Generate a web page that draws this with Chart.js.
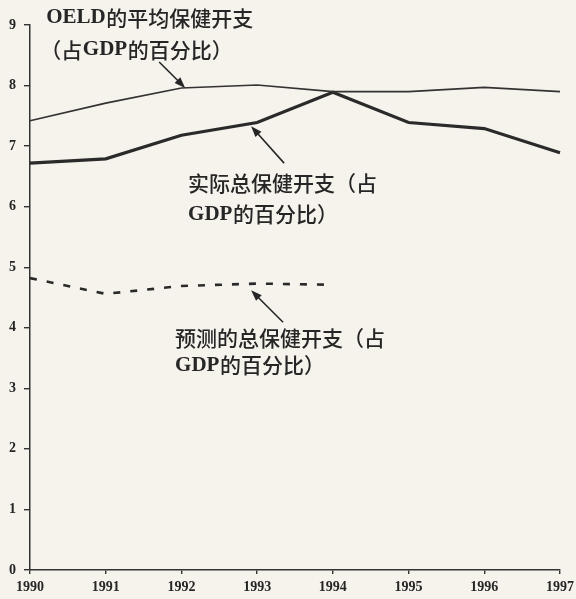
<!DOCTYPE html>
<html>
<head>
<meta charset="utf-8">
<script src="https://cdn.jsdelivr.net/npm/chart.js@4.4.0/dist/chart.umd.min.js"></script>
<style>
  html, body { margin: 0; padding: 0; overflow: hidden; background: #f6f2ec; }
  #wrap { position: relative; width: 600px; height: 599px; }
</style>
</head>
<body>
<div id="wrap"><canvas id="healthChart"></canvas></div>
<script>
// values (% of GDP)
const years = ['1990', '1991', '1992', '1993', '1994', '1995', '1996', '1997'];
const oecdAverage = [7.42, 7.71, 7.96, 8.01, 7.9, 7.9, 7.97, 7.9];
const actualTotal = [6.72, 6.79, 7.18, 7.39, 7.89, 7.39, 7.29, 6.89];
const forecastTotal = [4.82, 4.56, 4.69, 4.73, 4.71];
const yTicks = [0, 1, 2, 3, 4, 5, 6, 7, 8, 9];

const labelOecd = ['OELD的平均保健开支', '（占GDP的百分比）'];
const labelActual = ['实际总保健开支（占', 'GDP的百分比）'];
const labelForecast = ['预测的总保健开支（占', 'GDP的百分比）'];

const INK = '#262626';
const LATIN_FONT = "bold 21px 'Liberation Serif', 'DejaVu Serif', serif";
const CJK_FONT = "500 21px 'Noto Sans CJK SC', 'Noto Sans', sans-serif";

// draw a line of mixed text: latin runs in bold serif, the rest in CJK sans
function drawMixed(ctx, text, x, y) {
    const parts = text.split(/([A-Za-z0-9]+)/).filter(s => s.length);
    let cx = x;
    parts.forEach(part => {
        ctx.font = /^[A-Za-z0-9]+$/.test(part) ? LATIN_FONT : CJK_FONT;
        ctx.fillText(part, cx, y);
        cx += ctx.measureText(part).width + 0.6;
    });
}

function drawArrow(ctx, x0, y0, x1, y1) {
    const ang = Math.atan2(y1 - y0, x1 - x0);
    const head = 11, half = 4;
    ctx.beginPath();
    ctx.moveTo(x0, y0);
    ctx.lineTo(x1 - Math.cos(ang) * head * 0.8, y1 - Math.sin(ang) * head * 0.8);
    ctx.stroke();
    ctx.beginPath();
    ctx.moveTo(x1, y1);
    ctx.lineTo(x1 - Math.cos(ang) * head + Math.sin(ang) * half, y1 - Math.sin(ang) * head - Math.cos(ang) * half);
    ctx.lineTo(x1 - Math.cos(ang) * head - Math.sin(ang) * half, y1 - Math.sin(ang) * head + Math.cos(ang) * half);
    ctx.closePath();
    ctx.fill();
}

// arrow tip sits on the series (index, value), text is offset from the tip
const callouts = [
    { lines: labelOecd, at: [2.05, 7.96], tail: [-26, -26], text: [[-139, -70], [-145, -38]] },
    { lines: labelActual, at: [2.92, 7.33], tail: [33, 37], text: [[-63, 57], [-63, 88]] },
    { lines: labelForecast, at: [2.92, 4.62], tail: [32, 32], text: [[-76, 48], [-76, 75]] }
];

const calloutPlugin = {
    id: 'callouts',
    afterDraw(chart) {
        const ctx = chart.ctx;
        const xs = chart.scales.x, ys = chart.scales.y;
        ctx.save();
        ctx.fillStyle = INK;
        ctx.strokeStyle = INK;
        ctx.lineWidth = 1.6;
        ctx.textBaseline = 'middle';
        ctx.textAlign = 'left';
        callouts.forEach(c => {
            const tx = xs.getPixelForValue(c.at[0]);
            const ty = ys.getPixelForValue(c.at[1]);
            drawArrow(ctx, tx + c.tail[0], ty + c.tail[1], tx, ty);
            c.lines.forEach((line, i) => {
                drawMixed(ctx, line, tx + c.text[i][0], ty + c.text[i][1]);
            });
        });
        ctx.restore();
    }
};

const tickFont = { family: "'Liberation Serif', 'DejaVu Serif', serif", size: 14, weight: 'bold' };

new Chart(document.getElementById('healthChart'), {
    type: 'line',
    data: {
        labels: years,
        datasets: [
            {
                label: 'OECD average',
                data: oecdAverage,
                borderColor: '#333',
                borderWidth: 1.6,
                pointRadius: 0,
                tension: 0
            },
            {
                label: 'Actual total',
                data: actualTotal,
                borderColor: '#2a2a2a',
                borderWidth: 3.2,
                pointRadius: 0,
                tension: 0
            },
            {
                label: 'Forecast total',
                data: forecastTotal,
                borderColor: '#2a2a2a',
                borderWidth: 2.6,
                borderDash: [7, 10],
                pointRadius: 0,
                tension: 0
            }
        ]
    },
    options: {
        responsive: true,
        maintainAspectRatio: false,
        animation: false,
        layout: { padding: { top: 25, right: 40, left: 0, bottom: 0 } },
        plugins: {
            legend: { display: false },
            tooltip: { enabled: false }
        },
        scales: {
            x: {
                grid: { drawOnChartArea: false, tickLength: 4, color: '#333', lineWidth: 1.4 },
                border: { color: '#333', width: 1.5 },
                ticks: { color: INK, font: tickFont, padding: 5, maxRotation: 0, autoSkip: false },
                afterFit(scale) { scale.height = 29; }
            },
            y: {
                min: 0,
                max: 9,
                afterBuildTicks(scale) { scale.ticks = yTicks.map(v => ({ value: v })); },
                grid: { drawOnChartArea: false, tickLength: 6, color: '#333', lineWidth: 1.4 },
                border: { color: '#333', width: 1.5 },
                ticks: { color: INK, font: tickFont, padding: 8 },
                afterFit(scale) { scale.width = 30; }
            }
        }
    },
    plugins: [calloutPlugin]
});
</script>
</body>
</html>
